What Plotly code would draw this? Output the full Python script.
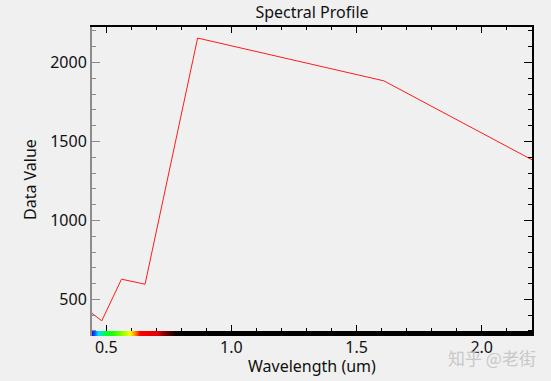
import numpy as np
import plotly.graph_objects as go

# Data
wavelength = [0.443, 0.482, 0.561, 0.655, 0.865, 1.609, 2.201]
data_value = [412, 364, 628, 596, 2155, 1884, 1384]

# Spectrum bar colour stops (wavelength, colour)
bar_stops_wl = [0.443, 0.455, 0.468, 0.495, 0.527, 0.575, 0.595, 0.615, 0.635, 0.707, 0.727, 0.783, 2.201]
bar_stops_col = ['#1010ff', '#0060ff', '#00e0ff', '#00ff40', '#20ff00', '#b0ff00', '#ffff00',
                 '#ff9000', '#ff0000', '#e00000', '#900000', '#000000', '#000000']

x_range = [0.443, 2.201]
y_range = [268, 2225]

FONT = "Noto Sans"

fig = go.Figure()

# spectrum colour bar along the bottom
wl_min, wl_max = bar_stops_wl[0], bar_stops_wl[-1]
cscale = [[(w - wl_min) / (wl_max - wl_min), c] for w, c in zip(bar_stops_wl, bar_stops_col)]
bar_x = np.arange(wl_min, wl_max + 0.002, 0.002)
fig.add_trace(go.Heatmap(x=bar_x, z=[bar_x], colorscale=cscale, zmin=wl_min, zmax=wl_max,
                         showscale=False, hoverinfo="skip", xaxis="x", yaxis="y3"))

# the profile
fig.add_trace(go.Scatter(x=wavelength, y=data_value, mode="lines",
                         line=dict(color="#ff1a1a", width=1), showlegend=False))

# invisible trace for mirrored top/right axes
fig.add_trace(go.Scatter(x=wavelength, y=data_value, mode="lines",
                         line=dict(color="rgba(0,0,0,0)", width=0), showlegend=False,
                         hoverinfo="skip", xaxis="x2", yaxis="y2"))

fig.update_layout(
    width=551, height=381,
    margin=dict(l=92, r=19, t=27, b=45, autoexpand=False),
    paper_bgcolor="#f0f0f0", plot_bgcolor="#f0f0f0",
    showlegend=False,
    font=dict(family=FONT, color="#111111", size=16),
    title=dict(text="Spectral Profile", x=0.5, xref="paper", xanchor="center",
               y=1 - 12 / 381, yanchor="middle", font=dict(size=16, family=FONT, color="#111111")),
    xaxis=dict(range=x_range, showgrid=False, zeroline=False, showline=False, automargin=False,
               tickmode="array", tickvals=[0.5, 1.0, 1.5, 2.0], ticktext=["0.5", "1.0", "1.5", "2.0"],
               ticks="inside", ticklen=11, tickcolor="#000000", tickwidth=1,
               minor=dict(dtick=0.1, tick0=0.0, ticks="inside", ticklen=8, tickcolor="#000000"),
               tickfont=dict(size=16), anchor="y"),
    yaxis=dict(range=y_range, showgrid=False, zeroline=False, showline=True, automargin=False,
               linecolor="#8c8c8c", linewidth=2, domain=[0, 1],
               tickmode="array", tickvals=[500, 1000, 1500, 2000],
               ticks="inside", ticklen=8, tickcolor="#8c8c8c", tickwidth=1,
               minor=dict(dtick=100, tick0=0, ticks="inside", ticklen=4, tickcolor="#8c8c8c"),
               tickfont=dict(size=16), anchor="x"),
    xaxis2=dict(range=x_range, overlaying="x", side="top", anchor="y", showgrid=False,
                zeroline=False, showline=True, linecolor="#000000", linewidth=1.5, automargin=False,
                showticklabels=False, tickmode="array", tickvals=[0.5, 1.0, 1.5, 2.0],
                ticks="inside", ticklen=6, tickcolor="#000000",
                minor=dict(dtick=0.1, tick0=0.0, ticks="inside", ticklen=3, tickcolor="#000000")),
    yaxis2=dict(range=y_range, overlaying="y", side="right", anchor="x2", showgrid=False,
                zeroline=False, showline=True, linecolor="#000000", linewidth=1.5, automargin=False,
                showticklabels=False, tickmode="array", tickvals=[500, 1000, 1500, 2000],
                ticks="inside", ticklen=8, tickcolor="#000000",
                minor=dict(dtick=100, tick0=0, ticks="inside", ticklen=4, tickcolor="#000000")),
    yaxis3=dict(domain=[0, 5 / 309], range=[-0.5, 0.5], visible=False, anchor="x"),
    annotations=[
        dict(text="Wavelength (um)", xref="paper", yref="paper", x=0.5, y=(336 - 366) / 309,
             xanchor="center", yanchor="middle", showarrow=False, font=dict(size=16, family=FONT)),
        dict(text="Data Value", xref="paper", yref="paper", x=(30 - 92) / 440, y=(336 - 180) / 309,
             xanchor="center", yanchor="middle", showarrow=False, textangle=-90,
             font=dict(size=16, family=FONT)),
        dict(text="知乎 @老街", xref="paper", yref="paper", x=(492 - 92) / 440, y=(336 - 357) / 309,
             xanchor="center", yanchor="middle", showarrow=False,
             font=dict(family="Noto Sans CJK SC", size=17, color="#c8c8c8")),
    ],
)

fig.write_html("out.html", config={"displayModeBar": False},
               post_script="document.body.style.margin='0';")
